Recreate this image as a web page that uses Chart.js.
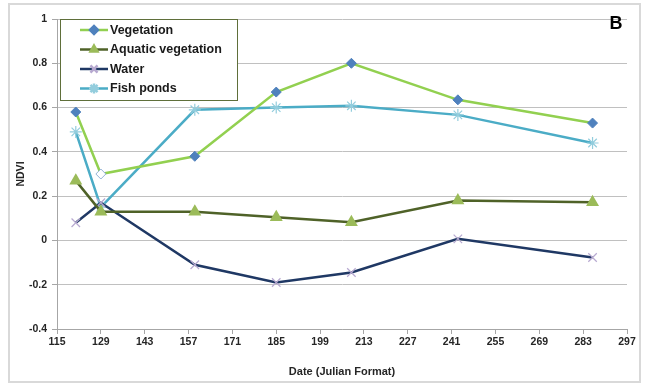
<!DOCTYPE html>
<html lang="en">
<head>
<meta charset="UTF-8">
<title>NDVI (B)</title>
<script src="https://cdn.jsdelivr.net/npm/chart.js@4.4.0/dist/chart.umd.min.js"></script>
<style>
    html, body { margin: 0; padding: 0; background: #fff; }
    #wrap { position: relative; width: 649px; height: 387px; }
    #frame { position: absolute; left: 8px; top: 3px; width: 633px; height: 380px; border: 2px solid #d9d9d9; box-sizing: border-box; pointer-events: none; }
    canvas { position: absolute; left: 0; top: 0; }
</style>
</head>
<body>
<div id="wrap">
    <canvas id="ndviChart" width="649" height="387"></canvas>
    <div id="frame"></div>
</div>
<script>
    // Julian dates of the acquisitions
    const days = [121, 129, 159, 185, 209, 243, 286];

    // NDVI values per class
    const vegetation = [0.58, 0.30, 0.38, 0.67, 0.80, 0.635, 0.53];
    const aquaticVegetation = [0.27, 0.13, 0.13, 0.105, 0.082, 0.18, 0.172];
    const water = [0.08, 0.17, -0.11, -0.19, -0.145, 0.007, -0.077];
    const fishPonds = [0.49, 0.15, 0.59, 0.60, 0.608, 0.567, 0.44];

    const seriesNames = ['Vegetation', 'Aquatic vegetation', 'Water', 'Fish ponds'];
    const xTicks = [115, 129, 143, 157, 171, 185, 199, 213, 227, 241, 255, 269, 283, 297];

    const toPoints = vals => days.map((d, i) => ({ x: d, y: vals[i] }));

    // легенда внутри графика, линия + маркер
    const boxLegend = {
        id: 'boxLegend',
        afterDraw(chart) {
            const ctx = chart.ctx;
            const left = 60, top = 19, w = 177, h = 81;
            ctx.save();
            ctx.fillStyle = '#fff';
            ctx.fillRect(left, top, w, h);
            ctx.strokeStyle = '#5f6f3a';
            ctx.lineWidth = 1;
            ctx.strokeRect(left + 0.5, top + 0.5, w, h);
            chart.data.datasets.forEach((ds, i) => {
                const y = top + 11 + i * 19.5;
                ctx.strokeStyle = ds.borderColor;
                ctx.lineWidth = ds.borderWidth;
                ctx.beginPath();
                ctx.moveTo(80, y);
                ctx.lineTo(108, y);
                ctx.stroke();
                ctx.fillStyle = ds.legendMarker;
                ctx.strokeStyle = ds.legendMarker;
                Chart.helpers.drawPoint(ctx, {
                    pointStyle: ds.pointStyle,
                    radius: ds.pointRadius - 1,
                    borderWidth: 1.2,
                    rotation: 0
                }, 94, y);
                ctx.fillStyle = '#1a1a1a';
                ctx.font = 'bold 12.5px "Liberation Sans", Arial, sans-serif';
                ctx.textBaseline = 'middle';
                ctx.textAlign = 'left';
                ctx.fillText(ds.label, 110, y + 0.5);
            });
            // panel letter
            ctx.fillStyle = '#000';
            ctx.font = 'bold 18px "Liberation Sans", Arial, sans-serif';
            ctx.textAlign = 'center';
            ctx.fillText('B', 616, 24);
            ctx.restore();
        }
    };

    const vegFill = vegetation.map((v, i) => i === 1 ? '#ffffff' : '#4f81bd');
    const vegBorder = vegetation.map((v, i) => i === 1 ? '#95b3d7' : '#4f81bd');

    new Chart(document.getElementById('ndviChart'), {
        type: 'line',
        data: {
            datasets: [
                {
                    label: seriesNames[0],
                    data: toPoints(vegetation),
                    borderColor: '#92d050',
                    borderWidth: 2.5,
                    pointStyle: 'rectRot',
                    pointRadius: 5,
                    pointBackgroundColor: vegFill,
                    pointBorderColor: vegBorder,
                    pointBorderWidth: 1,
                    legendMarker: '#4f81bd'
                },
                {
                    label: seriesNames[1],
                    data: toPoints(aquaticVegetation),
                    borderColor: '#4f6228',
                    borderWidth: 2.5,
                    pointStyle: 'triangle',
                    pointRadius: 5,
                    pointBackgroundColor: '#9bbb59',
                    pointBorderColor: '#9bbb59',
                    legendMarker: '#9bbb59'
                },
                {
                    label: seriesNames[2],
                    data: toPoints(water),
                    borderColor: '#1f3864',
                    borderWidth: 2.5,
                    pointStyle: 'crossRot',
                    pointRadius: 6,
                    pointBorderColor: '#b7a9d0',
                    pointBorderWidth: 1.2,
                    legendMarker: '#b7a9d0'
                },
                {
                    label: seriesNames[3],
                    data: toPoints(fishPonds),
                    borderColor: '#4bacc6',
                    borderWidth: 2.5,
                    pointStyle: 'star',
                    pointRadius: 6,
                    pointBorderColor: '#93cddd',
                    pointBorderWidth: 1.2,
                    legendMarker: '#93cddd'
                }
            ]
        },
        options: {
            responsive: false,
            animation: false,
            layout: { padding: { top: 19, right: 22, bottom: 0, left: 0 } },
            plugins: {
                legend: { display: false },
                tooltip: { enabled: false }
            },
            scales: {
                x: {
                    type: 'linear',
                    min: 115,
                    max: 297,
                    afterBuildTicks: s => { s.ticks = xTicks.map(v => ({ value: v })); },
                    afterFit: s => { s.height = 58; },
                    grid: { drawOnChartArea: false, drawTicks: true, tickLength: 5, color: '#a6a6a6' },
                    border: { color: '#a6a6a6', width: 1 },
                    ticks: {
                        color: '#262626',
                        font: { family: '"Liberation Sans", Arial, sans-serif', size: 10.5, weight: 'bold' },
                        padding: 2,
                        maxRotation: 0,
                        autoSkip: false
                    },
                    title: {
                        display: true,
                        text: 'Date (Julian Format)',
                        color: '#262626',
                        font: { family: '"Liberation Sans", Arial, sans-serif', size: 11, weight: 'bold' },
                        padding: { top: 4, bottom: 8 }
                    }
                },
                y: {
                    min: -0.4,
                    max: 1,
                    afterFit: s => { s.width = 57; },
                    grid: { color: '#c0c0c0', lineWidth: 1, tickLength: 5, tickColor: '#a6a6a6' },
                    border: { color: '#a6a6a6', width: 1 },
                    ticks: {
                        stepSize: 0.2,
                        color: '#262626',
                        font: { family: '"Liberation Sans", Arial, sans-serif', size: 10.5, weight: 'bold' },
                        padding: 5,
                        callback: v => String(Number(v.toFixed(1)))
                    },
                    title: {
                        display: true,
                        text: 'NDVI',
                        color: '#262626',
                        font: { family: '"Liberation Sans", Arial, sans-serif', size: 10.5, weight: 'bold' },
                        padding: { top: 15, bottom: 0 }
                    }
                }
            }
        },
        plugins: [boxLegend]
    });
</script>
</body>
</html>
